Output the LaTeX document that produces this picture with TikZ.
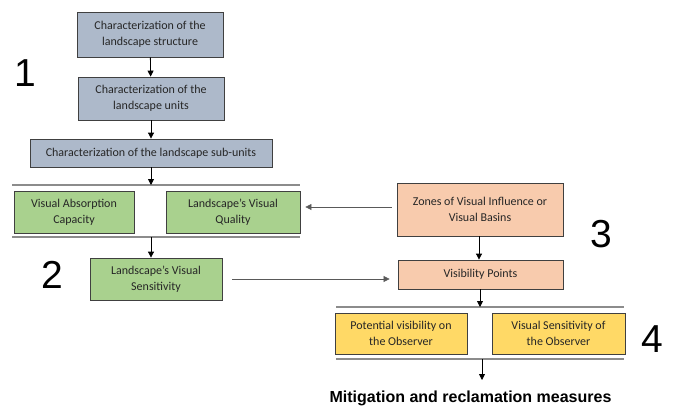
\documentclass[tikz,border=0pt]{standalone}
\usepackage{fontspec}
\setmainfont{Carlito}
\newfontfamily\arialfont{Liberation Sans}
\usepackage{tikz}
\usetikzlibrary{arrows.meta,positioning}
\definecolor{BlueGrey}  {HTML}{ADB9CA}
\definecolor{LeafGreen} {HTML}{A9D18E}
\definecolor{Peach}     {HTML}{F8CBAD}
\definecolor{Butter}    {HTML}{FFD966}
\definecolor{BoxLine}   {HTML}{404040}
\definecolor{BoxText}   {HTML}{262626}
\definecolor{RuleGrey}  {HTML}{8C8C8C}
\definecolor{SideGrey}  {HTML}{595959}
\tikzset{
  box/.style={draw=BoxLine,line width=0.8pt,align=center,inner sep=2pt,
    font=\fontsize{12}{16}\selectfont,text=BoxText},
  bluebox/.style={box,fill=BlueGrey},
  greenbox/.style={box,fill=LeafGreen},
  peachbox/.style={box,fill=Peach},
  yellowbox/.style={box,fill=Butter},
  arr/.style={-{Triangle[length=6pt,width=6pt]},line width=0.8pt,draw=black},
  sidearr/.style={-{Triangle[length=6pt,width=6pt]},line width=0.6pt,draw=SideGrey},
  rule/.style={draw=RuleGrey,line width=1.6pt},
  stagenum/.style={font=\arialfont\fontsize{39}{39}\selectfont,anchor=base,inner sep=0pt}
}
\begin{document}
\begin{tikzpicture}[x=1pt,y=-1pt]
  \useasboundingbox (0,0) rectangle (673,407);
  % stage 1
  \node[bluebox,minimum width=146pt,minimum height=45pt] (structure) at (150,34.5)
    {Characterization of the\\landscape structure};
  \node[bluebox,minimum width=146pt,minimum height=43pt] (units) at (151,98.5)
    {Characterization of the\\landscape units};
  \node[bluebox,minimum width=242pt,minimum height=28pt] (subunits) at (151,153)
    {Characterization of the landscape sub-units};
  \draw[arr] (structure) -- (units);
  \draw[arr] (units) -- (units |- subunits.north);
  % stage 2
  \coordinate (g2top-l) at (12,185);  \coordinate (g2top-r) at (300,185);
  \coordinate (g2bot-l) at (12,237);  \coordinate (g2bot-r) at (300,237);
  \draw[rule] (g2top-l) -- (g2top-r);
  \draw[rule] (g2bot-l) -- (g2bot-r);
  \node[greenbox,minimum width=120pt,minimum height=42pt] (absorption) at (74,212)
    {Visual Absorption\\Capacity};
  \node[greenbox,minimum width=134pt,minimum height=42pt] (quality) at (233,212)
    {Landscape's Visual\\Quality};
  \node[greenbox,minimum width=132pt,minimum height=42pt] (sensitivity) at (156,279)
    {Landscape's Visual\\Sensitivity};
  \draw[arr] (subunits.south) -- (subunits.south |- g2top-l);
  \draw[arr] (subunits.south |- g2bot-l) -- (subunits.south |- sensitivity.north);
  % stage 3
  \node[peachbox,minimum width=166pt,minimum height=53pt] (zones) at (480,209.5)
    {Zones of Visual Influence or\\Visual Basins};
  \node[peachbox,minimum width=165pt,minimum height=29pt] (vispoints) at (480.5,274.5)
    {Visibility Points};
  \draw[sidearr,shorten <=5pt,shorten >=5pt] (zones.west |- 0,207) -- (quality.east |- 0,207);
  \draw[sidearr,shorten <=10pt,shorten >=8pt] (sensitivity.east) -- (sensitivity.east -| vispoints.west);
  \draw[arr] (zones.south -| 479,0) -- (vispoints.north -| 479,0);
  % stage 4
  \coordinate (g4top-l) at (336,307);  \coordinate (g4top-r) at (624,307);
  \coordinate (g4bot-l) at (336,359);  \coordinate (g4bot-r) at (624,359);
  \draw[rule] (g4top-l) -- (g4top-r);
  \draw[rule] (g4bot-l) -- (g4bot-r);
  \node[yellowbox,minimum width=132pt,minimum height=41pt] (potential) at (401,333.5)
    {Potential visibility on\\the Observer};
  \node[yellowbox,minimum width=133pt,minimum height=41pt] (observer) at (558.5,333.5)
    {Visual Sensitivity of\\the Observer};
  \draw[arr] (vispoints.south -| 480,0) -- (g4top-l -| 480,0);
  \node[font=\arialfont\bfseries\fontsize{16}{16}\selectfont,anchor=base,inner sep=0pt]
    (mitigation) at (470.5,402) {Mitigation and reclamation measures};
  \coordinate (mitig-in) at (482,380);
  \draw[arr] (g4bot-l -| mitig-in) -- (mitig-in);
  % stage numbers
  \node[stagenum] (num1) at (25,86) {1};
  \node[stagenum] (num2) at (52,288) {2};
  \node[stagenum] (num3) at (601,247) {3};
  \node[stagenum] (num4) at (652,352) {4};
\end{tikzpicture}
\end{document}
